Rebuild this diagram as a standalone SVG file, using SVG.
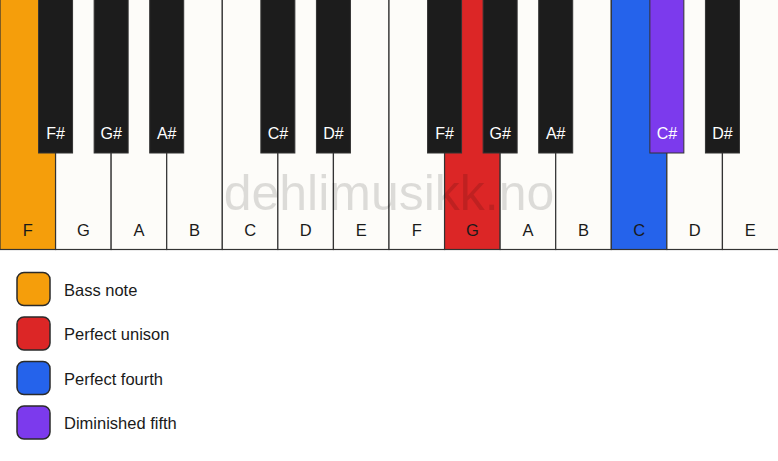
<svg xmlns="http://www.w3.org/2000/svg" width="778" height="461" viewBox="0 0 778 461">
<style>
.w{fill:#fdfcf9;stroke:#333;stroke-width:1.2}
.b{fill:#1c1c1c;stroke:#333;stroke-width:1}
.t{font-family:"Liberation Sans",Arial,sans-serif;font-size:16.5px;text-anchor:middle;fill:#1a1a1a}
.tb{font-family:"Liberation Sans",Arial,sans-serif;font-size:16px;text-anchor:middle;fill:#ffffff}
.lg{stroke:#2a2a2a;stroke-width:1.5}
.lt{font-family:"Liberation Sans",Arial,sans-serif;font-size:16.5px;fill:#1a1a1a}
</style>
<rect width="778" height="461" fill="#ffffff"/>
<g id="white-keys">
<g id="k-F1"><rect class="w" x="0" y="-1" width="55.57" height="250.5" style="fill:#f59e0b"/><text class="t" x="27.8" y="236">F</text></g>
<g id="k-G1"><rect class="w" x="55.57" y="-1" width="55.57" height="250.5"/><text class="t" x="83.4" y="236">G</text></g>
<g id="k-A1"><rect class="w" x="111.14" y="-1" width="55.57" height="250.5"/><text class="t" x="138.9" y="236">A</text></g>
<g id="k-B1"><rect class="w" x="166.71" y="-1" width="55.57" height="250.5"/><text class="t" x="194.5" y="236">B</text></g>
<g id="k-C1"><rect class="w" x="222.29" y="-1" width="55.57" height="250.5"/><text class="t" x="250.1" y="236">C</text></g>
<g id="k-D1"><rect class="w" x="277.86" y="-1" width="55.57" height="250.5"/><text class="t" x="305.6" y="236">D</text></g>
<g id="k-E1"><rect class="w" x="333.43" y="-1" width="55.57" height="250.5"/><text class="t" x="361.2" y="236">E</text></g>
<g id="k-F2"><rect class="w" x="389" y="-1" width="55.57" height="250.5"/><text class="t" x="416.8" y="236">F</text></g>
<g id="k-G2"><rect class="w" x="444.57" y="-1" width="55.57" height="250.5" style="fill:#dc2626"/><text class="t" x="472.4" y="236">G</text></g>
<g id="k-A2"><rect class="w" x="500.14" y="-1" width="55.57" height="250.5"/><text class="t" x="527.9" y="236">A</text></g>
<g id="k-B2"><rect class="w" x="555.71" y="-1" width="55.57" height="250.5"/><text class="t" x="583.5" y="236">B</text></g>
<g id="k-C2"><rect class="w" x="611.29" y="-1" width="55.57" height="250.5" style="fill:#2563eb"/><text class="t" x="639.1" y="236">C</text></g>
<g id="k-D2"><rect class="w" x="666.86" y="-1" width="55.57" height="250.5"/><text class="t" x="694.6" y="236">D</text></g>
<g id="k-E2"><rect class="w" x="722.43" y="-1" width="56.5" height="250.5"/><text class="t" x="750.2" y="236">E</text></g>
</g>
<text x="389" y="210" font-family="Liberation Sans,Arial,sans-serif" font-size="50" text-anchor="middle" fill="#000000" fill-opacity="0.13">dehlimusikk.no</text>
<g id="black-keys">
<g id="k-Fs1"><rect class="b" x="38.57" y="-1" width="34" height="154"/><text class="tb" x="55.57" y="139">F#</text></g>
<g id="k-Gs1"><rect class="b" x="94.14" y="-1" width="34" height="154"/><text class="tb" x="111.14" y="139">G#</text></g>
<g id="k-As1"><rect class="b" x="149.71" y="-1" width="34" height="154"/><text class="tb" x="166.71" y="139">A#</text></g>
<g id="k-Cs1"><rect class="b" x="260.86" y="-1" width="34" height="154"/><text class="tb" x="277.86" y="139">C#</text></g>
<g id="k-Ds1"><rect class="b" x="316.43" y="-1" width="34" height="154"/><text class="tb" x="333.43" y="139">D#</text></g>
<g id="k-Fs2"><rect class="b" x="427.57" y="-1" width="34" height="154"/><text class="tb" x="444.57" y="139">F#</text></g>
<g id="k-Gs2"><rect class="b" x="483.14" y="-1" width="34" height="154"/><text class="tb" x="500.14" y="139">G#</text></g>
<g id="k-As2"><rect class="b" x="538.71" y="-1" width="34" height="154"/><text class="tb" x="555.71" y="139">A#</text></g>
<g id="k-Cs2"><rect class="b" x="649.86" y="-1" width="34" height="154" style="fill:#7c3aed"/><text class="tb" x="666.86" y="139">C#</text></g>
<g id="k-Ds2"><rect class="b" x="705.43" y="-1" width="34" height="154"/><text class="tb" x="722.43" y="139">D#</text></g>
</g>
<g id="legend">
<g id="lg-bass"><rect class="lg" x="17" y="272.5" width="33" height="33" rx="7" fill="#f59e0b"/><text class="lt" x="64" y="295.5">Bass note</text></g>
<g id="lg-unison"><rect class="lg" x="17" y="317" width="33" height="33" rx="7" fill="#dc2626"/><text class="lt" x="64" y="340">Perfect unison</text></g>
<g id="lg-fourth"><rect class="lg" x="17" y="361.5" width="33" height="33" rx="7" fill="#2563eb"/><text class="lt" x="64" y="384.5">Perfect fourth</text></g>
<g id="lg-dim5"><rect class="lg" x="17" y="406" width="33" height="33" rx="7" fill="#7c3aed"/><text class="lt" x="64" y="429">Diminished fifth</text></g>
</g>
</svg>
